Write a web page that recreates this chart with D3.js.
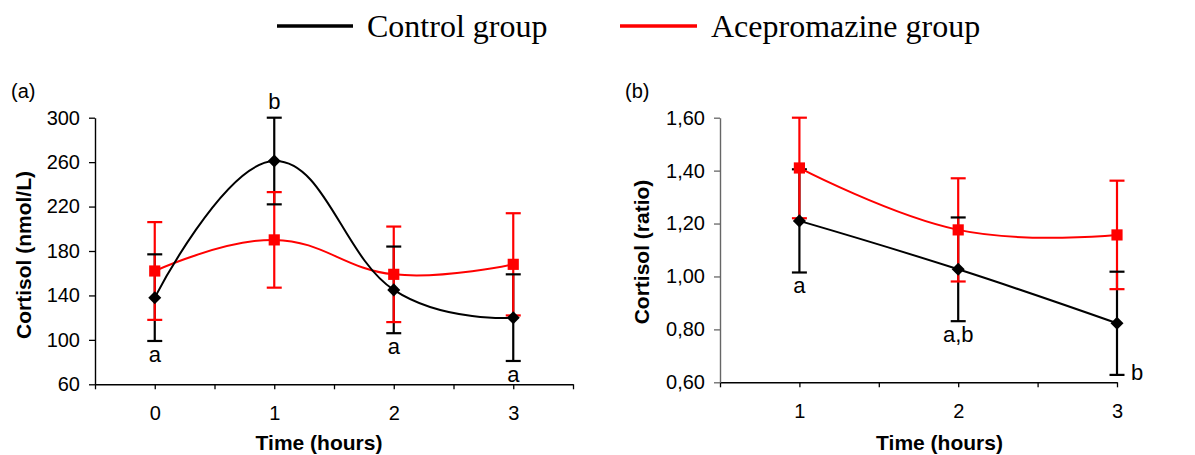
<!DOCTYPE html>
<html>
<head>
<meta charset="utf-8">
<script src="https://cdn.jsdelivr.net/npm/d3@7"></script>
<style>
  body { margin: 0; background: #fff; }
  svg text { font-family: "Liberation Sans", Arial, sans-serif; }
</style>
</head>
<body>
<div id="chart"></div>
<script>
// Panel (a): cortisol in nmol/L
const hoursA = [0, 1, 2, 3];
const controlA = [138, 261, 145, 120];
const controlASd = [39, 39, 39, 39];
const aceproA = [162, 190, 159, 168];
const aceproASd = [44, 43, 43, 46];
const lettersA = ["a", "b", "a", "a"];
const lettersASide = ["below", "above", "below", "below"];
const yTicksA = [60, 100, 140, 180, 220, 260, 300];

// Panel (b): cortisol ratio
const hoursB = [1, 2, 3];
const controlB = [1.21, 1.027, 0.823];
const controlBSd = [0.195, 0.196, 0.195];
const aceproB = [1.41, 1.176, 1.157];
const aceproBSd = [0.19, 0.195, 0.205];
const lettersB = ["a", "a,b", "b"];
const lettersBSide = ["below", "below", "right"];
const yTicksB = [0.6, 0.8, 1.0, 1.2, 1.4, 1.6];

const seriesNames = ["Control group", "Acepromazine group"];
const colors = ["#000000", "#ff0000"];

const svg = d3.select("#chart")
    .append("svg")
    .attr("width", 1195)
    .attr("height", 455);

// Legend
const legendX = [[277, 353], [620, 697]];
seriesNames.forEach((name, i) => {
    svg.append("line")
        .attr("x1", legendX[i][0]).attr("x2", legendX[i][1])
        .attr("y1", 26).attr("y2", 26)
        .attr("stroke", colors[i]).attr("stroke-width", 3.5);
    svg.append("text")
        .attr("x", legendX[i][1] + 14).attr("y", 37)
        .style("font-family", "'Liberation Serif', 'Times New Roman', serif")
        .style("font-size", "32px")
        .text(name);
});

function drawPanel(cfg) {
    const g = svg.append("g");
    const x = d3.scaleLinear().domain(cfg.xDomain).range(cfg.xRange);
    const y = d3.scaleLinear().domain(cfg.yDomain).range(cfg.yRange);

    // x axis, ticks on every half hour, labels on whole hours
    const xTickVals = d3.range(cfg.xDomain[0], cfg.xDomain[1] + 0.01, 0.5);
    const xAxis = d3.axisBottom(x)
        .tickValues(xTickVals)
        .tickSize(5)
        .tickSizeOuter(0)
        .tickPadding(17)
        .tickFormat(d => Number.isInteger(d) && cfg.hours.includes(d) ? d : "");
    const gx = g.append("g")
        .attr("transform", `translate(0,${cfg.yRange[0]})`)
        .call(xAxis);
    gx.select(".domain").attr("stroke", "#000").attr("stroke-width", 1.4);
    gx.selectAll(".tick line").attr("stroke", "#000").attr("stroke-width", 1.3);
    gx.selectAll("text").style("font-size", "20px").attr("fill", "#000");

    // y axis
    const yAxis = d3.axisLeft(y)
        .tickValues(cfg.yTicks)
        .tickSize(6)
        .tickSizeOuter(0)
        .tickPadding(9)
        .tickFormat(cfg.fmt);
    const gy = g.append("g")
        .attr("transform", `translate(${cfg.xRange[0]},0)`)
        .call(yAxis);
    gy.select(".domain").attr("stroke", cfg.yAxisColor).attr("stroke-width", 1.4);
    gy.selectAll(".tick line").attr("stroke", cfg.yAxisColor).attr("stroke-width", 1.3);
    gy.selectAll("text").style("font-size", "20px").attr("fill", "#000");

    // axis titles
    g.append("text")
        .attr("x", (cfg.xRange[0] + cfg.xRange[1]) / 2 + cfg.xTitleShift)
        .attr("y", 450)
        .attr("text-anchor", "middle")
        .style("font-size", "21px").style("font-weight", "bold")
        .text("Time (hours)");
    g.append("text")
        .attr("transform", `translate(${cfg.yTitleX},${cfg.yTitleY}) rotate(-90)`)
        .attr("text-anchor", "middle")
        .style("font-size", "21px").style("font-weight", "bold")
        .text(cfg.yTitle);

    // panel label
    g.append("text")
        .attr("x", cfg.labelX).attr("y", 98)
        .style("font-size", "20px")
        .text(cfg.label);

    const series = [
        { vals: cfg.control, sd: cfg.controlSd, color: colors[0], diamond: true },
        { vals: cfg.acepro, sd: cfg.aceproSd, color: colors[1], diamond: false }
    ];

    // error bar verticals
    series.forEach(s => {
        g.selectAll(null)
            .data(cfg.hours)
            .enter()
            .append("line")
            .attr("x1", d => x(d)).attr("x2", d => x(d))
            .attr("y1", (d, i) => y(s.vals[i] - s.sd[i]))
            .attr("y2", (d, i) => y(s.vals[i] + s.sd[i]))
            .attr("stroke", s.color).attr("stroke-width", 2.2);
    });
    // error bar caps
    series.forEach(s => {
        [-1, 1].forEach(sign => {
            g.selectAll(null)
                .data(cfg.hours)
                .enter()
                .append("line")
                .attr("x1", d => x(d) - 7.5).attr("x2", d => x(d) + 7.5)
                .attr("y1", (d, i) => y(s.vals[i] + sign * s.sd[i]))
                .attr("y2", (d, i) => y(s.vals[i] + sign * s.sd[i]))
                .attr("stroke", s.color).attr("stroke-width", 2.2);
        });
    });

    // smoothed lines (Excel-like spline)
    const line = d3.line()
        .x(d => x(d[0]))
        .y(d => y(d[1]))
        .curve(d3.curveCardinal.tension(-0.25));
    series.slice().reverse().forEach(s => {
        g.append("path")
            .datum(cfg.hours.map((h, i) => [h, s.vals[i]]))
            .attr("d", line)
            .attr("fill", "none")
            .attr("stroke", s.color)
            .attr("stroke-width", 2);
    });

    // markers
    series.forEach(s => {
        g.selectAll(null)
            .data(cfg.hours)
            .enter()
            .append("path")
            .attr("d", d3.symbol().type(d3.symbolSquare).size(s.diamond ? 85 : 125))
            .attr("transform", (d, i) => `translate(${x(d)},${y(s.vals[i])})` + (s.diamond ? " rotate(45)" : ""))
            .attr("fill", s.color);
    });

    // significance letters
    g.selectAll(null)
        .data(cfg.hours)
        .enter()
        .append("text")
        .attr("x", (d, i) => cfg.letterSide[i] === "right" ? x(d) + 14 : x(d))
        .attr("y", (d, i) => {
            const lo = y(cfg.control[i] - cfg.controlSd[i]);
            const hi = y(cfg.control[i] + cfg.controlSd[i]);
            if (cfg.letterSide[i] === "above") return hi - 9;
            if (cfg.letterSide[i] === "right") return lo + 5;
            return lo + 21;
        })
        .attr("text-anchor", (d, i) => cfg.letterSide[i] === "right" ? "start" : "middle")
        .style("font-size", "22px")
        .text((d, i) => cfg.letters[i]);
}

drawPanel({
    hours: hoursA,
    control: controlA, controlSd: controlASd,
    acepro: aceproA, aceproSd: aceproASd,
    letters: lettersA, letterSide: lettersASide,
    xDomain: [-0.5, 3.5], xRange: [95, 573],
    yDomain: [60, 300], yRange: [384.3, 117.7],
    yTicks: yTicksA, fmt: d => d,
    yAxisColor: "#000",
    yTitle: "Cortisol (nmol/L)", yTitleX: 31, yTitleY: 255,
    xTitleShift: -15,
    label: "(a)", labelX: 11
});

drawPanel({
    hours: hoursB,
    control: controlB, controlSd: controlBSd,
    acepro: aceproB, aceproSd: aceproBSd,
    letters: lettersB, letterSide: lettersBSide,
    xDomain: [0.5, 3], xRange: [720, 1117],
    yDomain: [0.6, 1.6], yRange: [382.3, 117.7],
    yTicks: yTicksB, fmt: d => d.toFixed(2).replace(".", ","),
    yAxisColor: "#666",
    yTitle: "Cortisol (ratio)", yTitleX: 649, yTitleY: 252,
    xTitleShift: 21,
    label: "(b)", labelX: 625
});
</script>
</body>
</html>
